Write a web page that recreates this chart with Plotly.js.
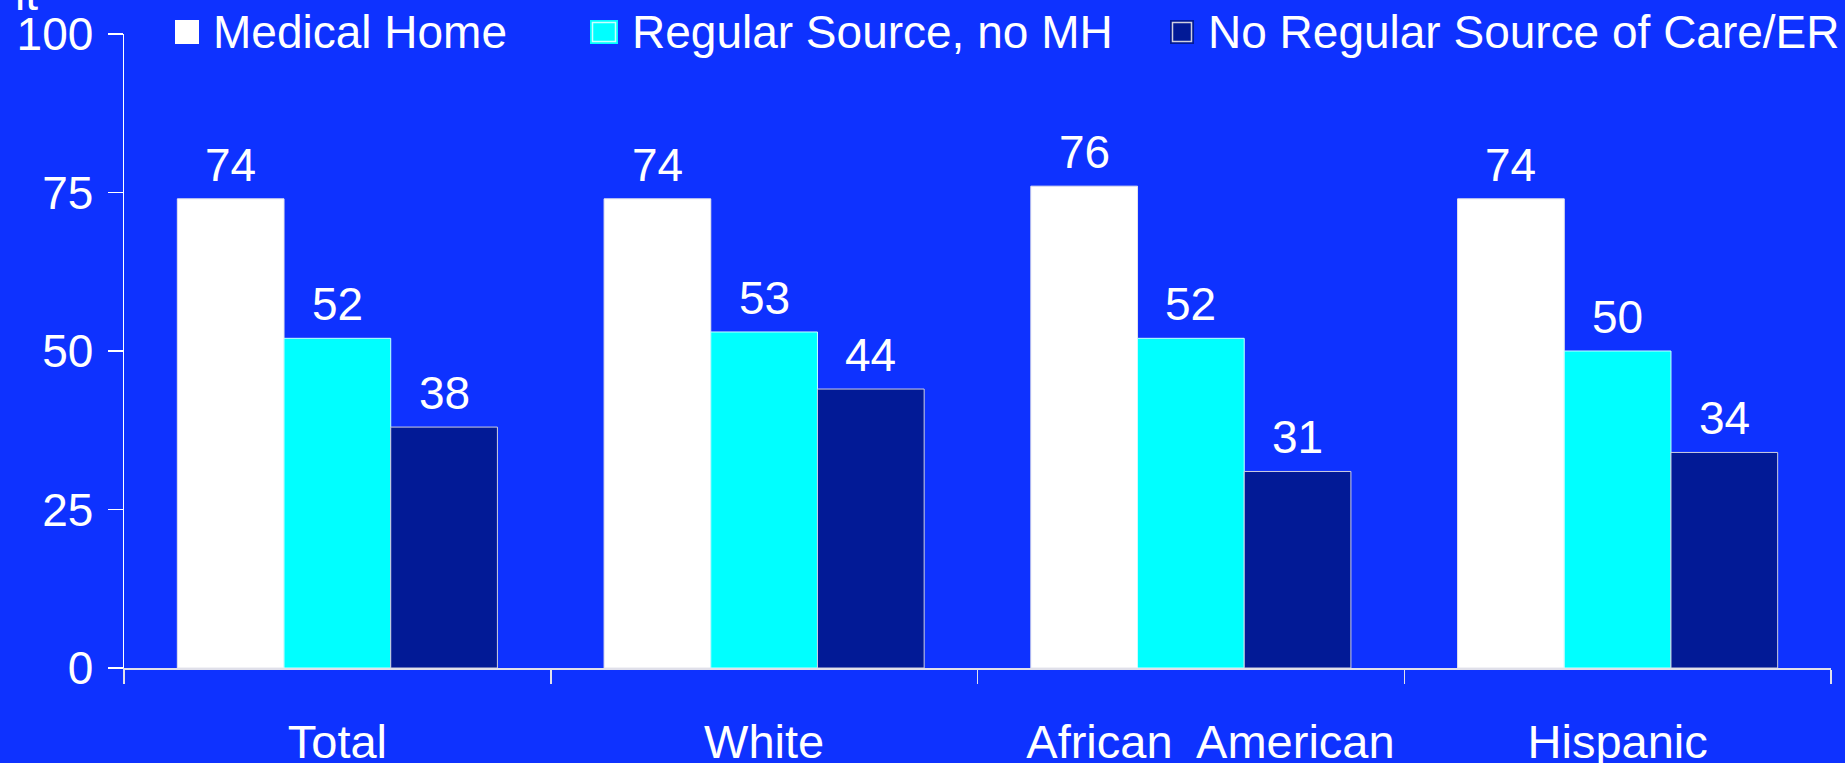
<!DOCTYPE html>
<html>
<head>
<meta charset="utf-8">
<script src="https://cdn.plot.ly/plotly-3.0.1.min.js"></script>
<style>
  html, body { margin: 0; padding: 0; background: #0E32FF; overflow: hidden; }
  #chart { width: 1845px; height: 763px; }
</style>
</head>
<body>
<div id="chart"></div>
<script>
// Groups along the x axis
const categories = ['Total', 'White', 'African American', 'Hispanic'];
// Axis labels for the groups (the two-word label is set a little to the right)
const categoryLabels = ['Total', 'White', '\u00A0\u00A0\u00A0African\u00A0 American', 'Hispanic'];

// Series names and values (percent)
const seriesNames = ['Medical Home', 'Regular Source, no MH', 'No Regular Source of Care/ER'];
const medicalHome = [74, 74, 76, 74];
const regularSource = [52, 53, 52, 50];
const noRegularSource = [38, 44, 31, 34];

const yTicks = [0, 25, 50, 75, 100];

// Styling
const BG = '#0E32FF';
const FONT = 'Liberation Sans, Arial, sans-serif';
const FS = 46;
const barColors = ['#FFFFFF', '#00FFFF', '#021A96'];
const outlineColors = ['#E4E4EC', '#C8FFFF', '#D0D0E0'];

// Plot area geometry (pixels)
const W = 1845, H = 763;
const M = { l: 124, r: 14, t: 34, b: 95 };
const plotW = W - M.l - M.r;
const plotH = H - M.t - M.b;
const px = v => (v - M.l) / plotW;          // page x -> paper x
const py = v => (H - M.b - v) / plotH;      // page y -> paper y

const BARGAP = 0.25;
const seriesValues = [medicalHome, regularSource, noRegularSource];
const nSeries = seriesValues.length;
const barW = (1 - BARGAP) / nSeries;

const traces = seriesValues.map((vals, s) => ({
  type: 'bar',
  name: seriesNames[s],
  x: categories,
  y: vals,
  marker: { color: barColors[s], line: { color: outlineColors[s], width: 1 } },
  showlegend: false,
  hoverinfo: 'skip'
}));

// Value labels above every bar
const annotations = [];
seriesValues.forEach((vals, s) => {
  vals.forEach((v, i) => {
    annotations.push({
      x: i + (s - (nSeries - 1) / 2) * barW,
      y: v,
      xref: 'x', yref: 'y',
      text: String(v),
      showarrow: false,
      xanchor: 'center', yanchor: 'bottom',
      yshift: 6,
      font: { family: FONT, size: FS, color: '#FFFFFF' }
    });
  });
});

// Legend row across the top
const legendBoxes = [
  { x0: 175, x1: 199 },
  { x0: 590, x1: 618 },
  { x0: 1170, x1: 1194 }
];
const shapes = [];
legendBoxes.forEach((b, s) => {
  shapes.push({
    type: 'rect', xref: 'paper', yref: 'paper',
    x0: px(b.x0), x1: px(b.x1), y0: py(44), y1: py(20),
    fillcolor: barColors[s],
    line: { width: 0 }
  });
  if (s > 0) {
    shapes.push({
      type: 'rect', xref: 'paper', yref: 'paper',
      x0: px(b.x0 + 2.5), x1: px(b.x1 - 2.5), y0: py(41.5), y1: py(22.5),
      fillcolor: 'rgba(0,0,0,0)',
      line: { color: outlineColors[s], width: 1.5 }
    });
  }
  annotations.push({
    x: px(b.x1 + 12), y: py(32),
    xref: 'paper', yref: 'paper',
    text: seriesNames[s],
    showarrow: false,
    xanchor: 'left', yanchor: 'middle',
    font: { family: FONT, size: FS, color: '#FFFFFF' }
  });
});

// Tail of a heading line running off the top edge
annotations.push({
  x: px(13), y: py(-6),
  xref: 'paper', yref: 'paper',
  text: 'it',
  showarrow: false,
  xanchor: 'left', yanchor: 'middle',
  font: { family: FONT, size: FS, color: '#FFFFFF' }
});

const layout = {
  width: W, height: H,
  margin: M,
  paper_bgcolor: BG,
  plot_bgcolor: BG,
  font: { family: FONT, size: FS, color: '#FFFFFF' },
  barmode: 'group',
  bargap: BARGAP,
  bargroupgap: 0,
  showlegend: false,
  xaxis: {
    type: 'category',
    tickvals: categories,
    ticktext: categoryLabels,
    showline: true, linecolor: '#E0E0EA', linewidth: 2,
    ticks: 'outside', tickson: 'boundaries', ticklen: 14, tickwidth: 1.5, tickcolor: '#E0E0EA',
    ticklabelstandoff: 32,
    tickfont: { family: FONT, size: 47, color: '#FFFFFF' },
    showgrid: false, zeroline: false, fixedrange: true
  },
  yaxis: {
    range: [0, 100],
    tickvals: yTicks,
    ticktext: yTicks.map(String),
    showline: true, linecolor: '#FFFFFF', linewidth: 1.5,
    ticks: 'outside', ticklen: 15, tickwidth: 1.5, tickcolor: '#FFFFFF',
    ticklabelstandoff: 5,
    tickfont: { family: FONT, size: FS, color: '#FFFFFF' },
    showgrid: false, zeroline: false, fixedrange: true
  },
  shapes: shapes,
  annotations: annotations
};

Plotly.newPlot('chart', traces, layout, { displayModeBar: false, staticPlot: true });
</script>
</body>
</html>
